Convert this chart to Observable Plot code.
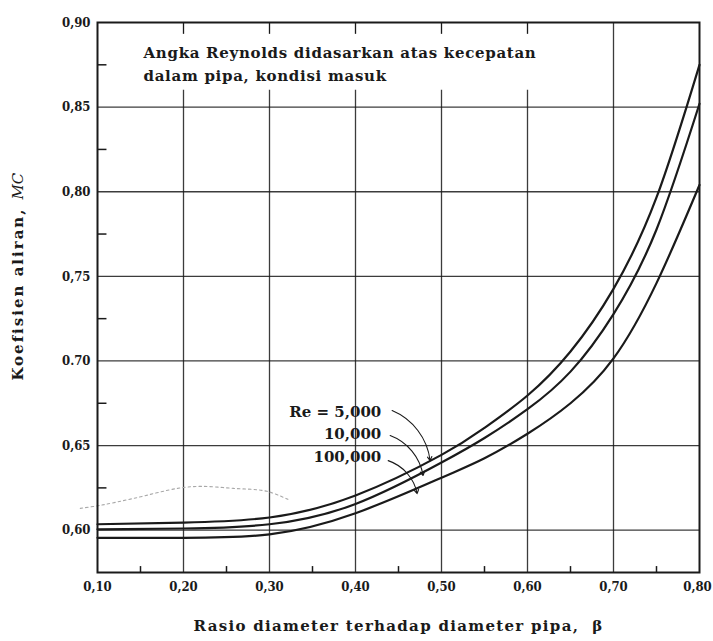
<!DOCTYPE html>
<html>
<head>
<meta charset="utf-8">
<script src="https://cdn.jsdelivr.net/npm/d3@7"></script>
<script src="https://cdn.jsdelivr.net/npm/@observablehq/plot@0.6"></script>
<style>
  html, body { margin: 0; padding: 0; background: #fff; }
  #chart { width: 713px; height: 641px; }
</style>
</head>
<body>
<div id="chart"></div>
<script>
// ---- data ----
const titleText = "Angka Reynolds didasarkan atas kecepatan\ndalam pipa, kondisi masuk";
const xLabel = "Rasio diameter terhadap diameter pipa,  β";
const yLabelMain = "Koefisien aliran,";
const yLabelSym = "MC";

const xTicks = [0.10, 0.20, 0.30, 0.40, 0.50, 0.60, 0.70, 0.80];
const xTickLabels = ["0,10", "0,20", "0,30", "0,40", "0,50", "0,60", "0,70", "0,80"];
const yTicks = [0.60, 0.65, 0.70, 0.75, 0.80, 0.85, 0.90];
const yTickLabels = ["0,60", "0,65", "0.70", "0,75", "0,80", "0,85", "0,90"];
const xMinor = [0.15, 0.25, 0.35, 0.45, 0.55, 0.65, 0.75];
const yMinor = [0.625, 0.675, 0.725, 0.775, 0.825, 0.875];

const seriesNames = ["Re = 5,000", "10,000", "100,000"];
const re5000Beta = [0.10, 0.20, 0.30, 0.40, 0.50, 0.55, 0.60, 0.65, 0.70, 0.75, 0.80];
const re5000MC   = [0.6035, 0.6045, 0.6075, 0.6205, 0.6445, 0.6605, 0.6796, 0.7056, 0.7426, 0.7966, 0.875];
const re10000Beta = [0.10, 0.20, 0.30, 0.40, 0.50, 0.55, 0.60, 0.65, 0.70, 0.75, 0.80];
const re10000MC   = [0.6005, 0.601, 0.6035, 0.6155, 0.640, 0.6545, 0.6715, 0.6937, 0.7277, 0.7777, 0.852];
const re100000Beta = [0.10, 0.20, 0.30, 0.40, 0.50, 0.55, 0.60, 0.65, 0.70, 0.75, 0.80];
const re100000MC   = [0.5955, 0.5955, 0.5975, 0.610, 0.631, 0.6425, 0.657, 0.675, 0.7015, 0.746, 0.804];

// label anchors and leader arrows (data coordinates)
const labelBeta = [0.43, 0.43, 0.43];
const labelMC = [0.6695, 0.6565, 0.6430];
const leaderFromBeta = [0.4426, 0.4403, 0.4380];
const leaderFromMC = [0.6707, 0.6559, 0.6411];
const leaderToBeta = [0.4868, 0.4786, 0.4717];
const leaderToMC = [0.6411, 0.6323, 0.6216];

// faint show-through trace in the scan
const traceBeta = [0.080, 0.1035, 0.142, 0.193, 0.22, 0.258, 0.297, 0.324];
const traceMC = [0.6129, 0.6147, 0.6188, 0.6247, 0.6259, 0.6247, 0.623, 0.6176];

// ---- build tables ----
const curves = [
  ...re5000Beta.map((b, i) => ({series: seriesNames[0], beta: b, mc: re5000MC[i]})),
  ...re10000Beta.map((b, i) => ({series: seriesNames[1], beta: b, mc: re10000MC[i]})),
  ...re100000Beta.map((b, i) => ({series: seriesNames[2], beta: b, mc: re100000MC[i]}))
];
const labels = seriesNames.map((s, i) => ({text: s, beta: labelBeta[i], mc: labelMC[i]}));
const leaders = seriesNames.map((s, i) => ({
  x1: leaderFromBeta[i], y1: leaderFromMC[i], x2: leaderToBeta[i], y2: leaderToMC[i]
}));
const trace = traceBeta.map((b, i) => ({beta: b, mc: traceMC[i]}));
const xTickRows = xTicks.map((v, i) => ({v, label: xTickLabels[i]}));
const yTickRows = yTicks.map((v, i) => ({v, label: yTickLabels[i]}));

const xMin = 0.10, xMax = 0.80, yMin = 0.575, yMax = 0.90;
const textBoxBottom = 0.86;
const ink = "#1a1a1a";
const serif = "'DejaVu Serif', 'Liberation Serif', serif";
const tickFont = "'DejaVu Serif Condensed', 'DejaVu Serif', serif";

const chart = Plot.plot({
  width: 713,
  height: 641,
  marginLeft: 97,
  marginRight: 14,
  marginTop: 22,
  marginBottom: 69,
  style: {fontFamily: serif, fontWeight: "bold", color: ink, background: "#fff"},
  x: {domain: [xMin, xMax], axis: null},
  y: {domain: [yMin, yMax], axis: null},
  marks: [
    // horizontal grid
    Plot.ruleY(yTicks.filter(v => v > yMin && v < yMax), {x1: xMin, x2: xMax, stroke: ink, strokeWidth: 1.3, strokeOpacity: 0.85}),
    // vertical grid (interrupted by the text block)
    Plot.ruleX(xTicks.filter(v => v > xMin && v < xMax), {
      y1: yMin, y2: d => d <= 0.60 ? textBoxBottom : yMax,
      stroke: ink, strokeWidth: 1.3, strokeOpacity: 0.85
    }),
    // short ticks along top edge
    Plot.ruleX(xTicks.filter(v => v > xMin && v <= 0.60), {y1: yMax, y2: yMax - 0.007, stroke: ink, strokeWidth: 1.3}),
    // minor ticks
    Plot.ruleY(yMinor, {x1: xMin, x2: xMin + 0.011, stroke: ink, strokeWidth: 1.5}),
    Plot.ruleX(xMinor, {y1: yMin, y2: yMin + 0.0035, stroke: ink, strokeWidth: 1.5}),
    // faint trace
    Plot.line(trace, {x: "beta", y: "mc", stroke: "#a8a8a8", strokeWidth: 1.1, strokeDasharray: "2.5,3", curve: "catmull-rom", clip: false}),
    // curves
    Plot.line(curves, {x: "beta", y: "mc", z: "series", stroke: ink, strokeWidth: 2.2, curve: "natural"}),
    // leaders
    Plot.arrow(leaders, {x1: "x1", y1: "y1", x2: "x2", y2: "y2", bend: 30, stroke: ink, strokeWidth: 1.1, headLength: 6, insetEnd: 0}),
    // series labels
    Plot.text(labels, {x: "beta", y: "mc", text: "text", textAnchor: "end", fontSize: 15, fill: ink, fontFamily: serif, fontWeight: "bold"}),
    // title block
    Plot.text([titleText], {frameAnchor: "top-left", dx: 46, dy: 39.5, textAnchor: "start", lineAnchor: "middle", lineHeight: 1.55, fontSize: 15, fill: ink, fontFamily: serif, fontWeight: "bold"}),
    // tick labels
    Plot.text(xTickRows.filter(d => d.v < xMax), {x: "v", y: () => yMin, text: "label", dy: 14, fontSize: 13, fontFamily: tickFont, fontWeight: "bold", fill: ink}),
    Plot.text(xTickRows.filter(d => d.v >= xMax), {x: "v", y: () => yMin, text: "label", dy: 14, dx: -2, fontSize: 13, fontFamily: tickFont, fontWeight: "bold", fill: ink}),
    Plot.text(yTickRows, {x: () => xMin, y: "v", text: "label", dx: -7, textAnchor: "end", fontSize: 13, fontFamily: tickFont, fontWeight: "bold", fill: ink}),
    // axis labels
    Plot.text([xLabel], {frameAnchor: "bottom", dy: 58, fontSize: 15, fill: ink, fontFamily: serif, fontWeight: "bold"}),
    Plot.text([yLabelMain], {frameAnchor: "left", dx: -79, dy: -90, rotate: -90, textAnchor: "end", fontSize: 15, fill: ink, fontFamily: serif, fontWeight: "bold"}),
    Plot.text([yLabelSym], {frameAnchor: "left", dx: -79, dy: -98, rotate: -90, textAnchor: "start", fontSize: 15, fontStyle: "italic", fill: ink, fontFamily: serif, fontWeight: "normal"}),
    // frame
    Plot.frame({stroke: ink, strokeWidth: 2})
  ]
});
// letter spacing to match the wide scanned lettering
d3.select(chart).selectAll("text").each(function() {
  const t = this.textContent;
  const s = d3.select(this);
  if (t === xLabel) s.style("letter-spacing", "1.3px");
  else if (t === yLabelMain) s.style("letter-spacing", "2px");
  else if (t.startsWith("Angka")) s.style("letter-spacing", "0.7px");
});
document.getElementById("chart").appendChild(chart);
</script>
</body>
</html>
